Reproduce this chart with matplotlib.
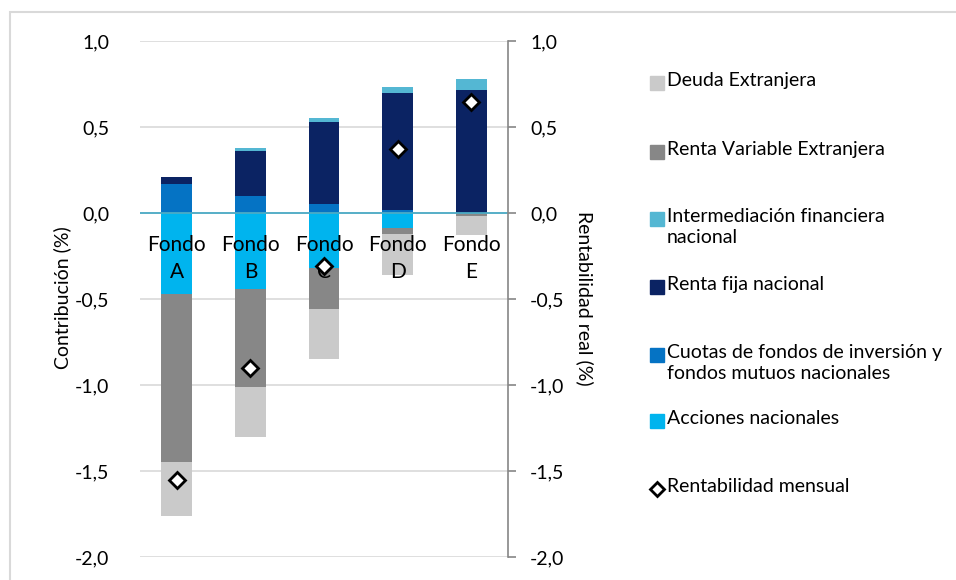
import numpy as np
import matplotlib
matplotlib.use("Agg")
import matplotlib.pyplot as plt
import matplotlib.ticker as ticker
from matplotlib.patches import Rectangle

plt.rcParams['font.family'] = ['Lato', 'DejaVu Sans']

#%% data
fondos = ['Fondo\nA', 'Fondo\nB', 'Fondo\nC', 'Fondo\nD', 'Fondo\nE']
acciones = [-0.47, -0.44, -0.32, -0.09, 0.0]
cuotas = [0.17, 0.10, 0.05, 0.02, 0.0]
renta_fija = [0.04, 0.26, 0.48, 0.68, 0.715]
intermediacion = [0.0, 0.02, 0.02, 0.03, 0.065]
rv_extranjera = [-0.98, -0.57, -0.24, -0.03, -0.02]
deuda_ext = [-0.31, -0.29, -0.29, -0.24, -0.11]
rentabilidad = [-1.55, -0.90, -0.31, 0.37, 0.645]

series = [
    ('Acciones nacionales', acciones, '#00B4EE'),
    ('Cuotas de fondos de inversión y\nfondos mutuos nacionales', cuotas, '#0573C4'),
    ('Renta fija nacional', renta_fija, '#0B2363'),
    ('Intermediación financiera\nnacional', intermediacion, '#54B7D3'),
    ('Renta Variable Extranjera', rv_extranjera, '#878787'),
    ('Deuda Extranjera', deuda_ext, '#CACACA'),
]

FS = 14

#%% plot
fig = plt.figure(figsize=(9.56, 5.8), dpi=100)
ax = fig.add_axes([140/956, 1-557/580, 368/956, 516/580])

x = np.arange(len(fondos))
pos_bot = np.zeros(len(fondos))
neg_bot = np.zeros(len(fondos))
for name, vals, col in series:
    v = np.array(vals)
    bot = np.where(v >= 0, pos_bot, neg_bot)
    ax.bar(x, v, 0.42, bottom=bot, color=col, edgecolor='none', zorder=2)
    pos_bot += np.clip(v, 0, None)
    neg_bot += np.clip(v, None, 0)

ax.plot(x, rentabilidad, linestyle='none', marker='D', markersize=8,
        markerfacecolor='white', markeredgecolor='black', markeredgewidth=2, zorder=6)

ax.set_xlim(-0.5, 4.5)
ax.set_ylim(-2.0, 1.0)
ax.yaxis.set_major_locator(ticker.MultipleLocator(0.5))
fmt = ticker.FuncFormatter(lambda v, p: ('%.1f' % v).replace('.', ','))
ax.yaxis.set_major_formatter(fmt)
ax.grid(axis='y', color='#D9D9D9', linewidth=1.2, zorder=0)
ax.set_axisbelow(True)

for s in ['left', 'right', 'top', 'bottom']:
    ax.spines[s].set_visible(False)
ax.axhline(0, color='#4BACC6', linewidth=1.3, zorder=3)
ax.set_xticks(x)
ax.set_xticklabels([])
ax.tick_params(axis='x', length=0)
# category labels drawn above the bars
for xi, lab in zip(x, fondos):
    ax.annotate(lab, (xi, 0), xytext=(0, -16), textcoords='offset points',
                ha='center', va='top', fontsize=15, linespacing=1.4, zorder=5)
ax.tick_params(axis='y', length=0, labelsize=FS, pad=22)
ax.set_ylabel('Contribución (%)', fontsize=FS, va='center')
ax.yaxis.set_label_coords(62/956, 1-298/580, transform=fig.transFigure)

ax2 = ax.twinx()
ax2.set_ylim(-2.0, 1.0)
ax2.yaxis.set_major_locator(ticker.MultipleLocator(0.5))
ax2.yaxis.set_major_formatter(fmt)
for s in ['left', 'top', 'bottom']:
    ax2.spines[s].set_visible(False)
ax2.spines['right'].set_color('#868686')
ax2.spines['right'].set_linewidth(1.2)
ax2.tick_params(axis='y', direction='out', length=6, width=1.2, color='#868686',
                labelsize=FS, pad=10)
ax2.set_ylabel('Rentabilidad real (%)', fontsize=FS, rotation=-90, va='center')
ax2.yaxis.set_label_coords(585/956, 1-298/580, transform=fig.transFigure)

#%% legend, drawn by hand
leg_y = [83, 152, 219, 287, 355, 421, 489]
leg_items = [series[5], series[4], series[3], series[2], series[1], series[0]]
for (name, vals, col), yy in zip(leg_items, leg_y):
    fig.patches.append(Rectangle((650/956, 1-(yy+7)/580), 14/956, 14/580,
                                 transform=fig.transFigure, color=col))
    fig.text(667/956, 1-(yy-11)/580, name, fontsize=FS, va='top', linespacing=1.3)
fig.lines.append(plt.Line2D([657/956], [1-489/580], transform=fig.transFigure,
                            marker='D', markersize=7, markerfacecolor='white',
                            markeredgecolor='black', markeredgewidth=2))
fig.text(667/956, 1-(489-11)/580, 'Rentabilidad mensual', fontsize=FS, va='top')

# outer frame
fig.patches.append(Rectangle((10/956, -0.1), 1.0, 1-12/580+0.1,
                             transform=fig.transFigure, fill=False,
                             edgecolor='#D9D9D9', linewidth=1.5))

plt.savefig('out.png', dpi=100)
